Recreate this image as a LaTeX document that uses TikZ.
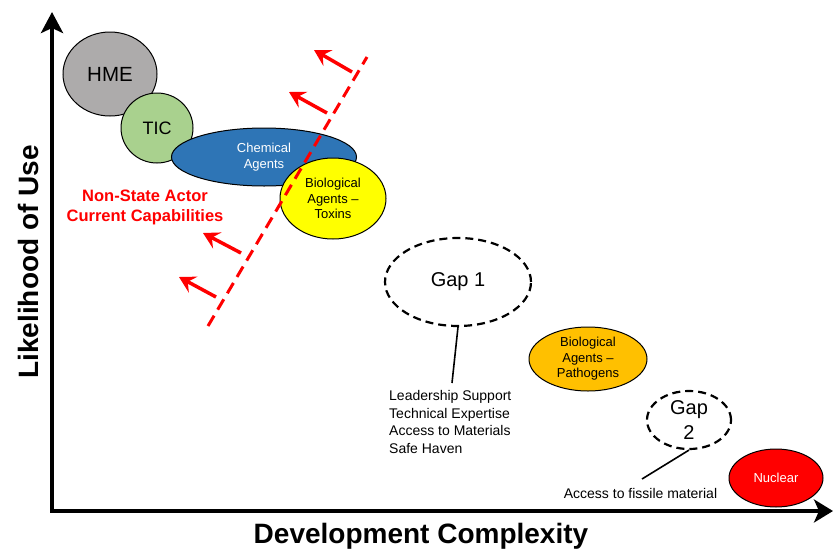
\documentclass[tikz,border=0pt]{standalone}
\usepackage{fontspec}
\setmainfont{Liberation Sans}
\usetikzlibrary{shapes.geometric,arrows.meta}
\definecolor{hmegray}{HTML}{ADABAB}
\definecolor{ticgreen}{HTML}{A9D18E}
\definecolor{chemblue}{HTML}{2E75B6}
\definecolor{toxyellow}{HTML}{FFFF00}
\definecolor{pathorange}{HTML}{FFC000}
\definecolor{nucred}{HTML}{FF0000}
\definecolor{capred}{HTML}{FF0000}
\begin{document}
\begin{tikzpicture}[x=1pt,y=-1pt,
  blob/.style={ellipse,draw=black,line width=1pt,inner sep=0pt,align=center},
  gapblob/.style={ellipse,draw=black,line width=2.2pt,dash pattern=on 8pt off 5pt,inner sep=0pt,align=center},
  axisline/.style={line width=4pt,{Stealth[length=21pt,width=22pt,inset=5pt]}-{Stealth[length=19pt,width=23pt,inset=5pt]}},
  push/.style={capred,line width=3.5pt,-{Stealth[length=16pt,width=18pt,inset=6pt]}},
  frontier/.style={capred,line width=3pt,dash pattern=on 12pt off 7pt},
  leader/.style={black,line width=1.6pt},
  smalltxt/.style={font=\fontsize{13}{15.5}\selectfont},
  axislabel/.style={font=\fontsize{28}{32}\selectfont\bfseries},
]
\useasboundingbox (0,0) rectangle (833,552);

% axes
\coordinate (ytip) at (52,12);
\coordinate (origin) at (52,511);
\coordinate (xtip) at (833,511);
\draw[axisline] (ytip) -- (origin) -- (xtip);
\node[axislabel,rotate=90] (ylab) at (28,262) {Likelihood of Use};
\node[axislabel] (xlab) at (421,536) {Development Complexity};

% capability blobs
\node[blob,fill=hmegray,minimum width=94pt,minimum height=84pt,font=\fontsize{20.5}{24}\selectfont] (hme) at (110,74) {HME};
\node[blob,fill=ticgreen,minimum width=72pt,minimum height=70pt,font=\fontsize{18}{22}\selectfont] (tic) at (157,128) {TIC};
\node[blob,fill=chemblue,minimum width=185pt,minimum height=58pt,smalltxt,text=white] (chem) at (264,157) {Chemical\\Agents};
\node[blob,fill=toxyellow,minimum width=106pt,minimum height=81pt,smalltxt] (tox) at (333,198.5) {Biological\\Agents --\\Toxins};

% red frontier
\coordinate (fbot) at (208,326);
\coordinate (ftop) at (367,57);
\draw[frontier] (fbot) -- (ftop);
\coordinate (a1s) at (352,72);  \coordinate (a1e) at (314,50);
\coordinate (a2s) at (327,113); \coordinate (a2e) at (289,92);
\coordinate (a3s) at (241,253); \coordinate (a3e) at (203,233);
\coordinate (a4s) at (216,297); \coordinate (a4e) at (179,277);
\draw[push] (a1s) -- (a1e);
\draw[push] (a2s) -- (a2e);
\draw[push] (a3s) -- (a3e);
\draw[push] (a4s) -- (a4e);

\node[text=capred,align=center,font=\fontsize{16.5}{20}\selectfont\bfseries] (nsa) at (145,207) {Non-State Actor\\Current Capabilities};

% gap 1
\node[gapblob,minimum width=146pt,minimum height=88pt,font=\fontsize{20}{24}\selectfont] (gap1) at (458,282) {Gap 1};
\node[anchor=west,align=left,inner sep=3pt,font=\fontsize{14}{17.4}\selectfont] (needs) at (386,422) {Leadership Support\\Technical Expertise\\Access to Materials\\Safe Haven};
\coordinate (g1end) at (452,383);
\draw[leader] (gap1.south) -- (g1end);

% pathogens
\node[blob,fill=pathorange,minimum width=118pt,minimum height=64pt,smalltxt] (path) at (588,359) {Biological\\Agents --\\Pathogens};

% gap 2
\node[gapblob,minimum width=84pt,minimum height=58pt,font=\fontsize{20}{25}\selectfont] (gap2) at (689,420) {Gap\\2};
\node[font=\fontsize{14}{17}\selectfont] (fissile) at (640.5,493) {Access to fissile material};
\coordinate (g2end) at (642,479);
\draw[leader] (gap2.south) -- (g2end);

% nuclear
\node[blob,fill=nucred,minimum width=94pt,minimum height=58pt,smalltxt,text=white] (nuc) at (776,478) {Nuclear};
\end{tikzpicture}
\end{document}
